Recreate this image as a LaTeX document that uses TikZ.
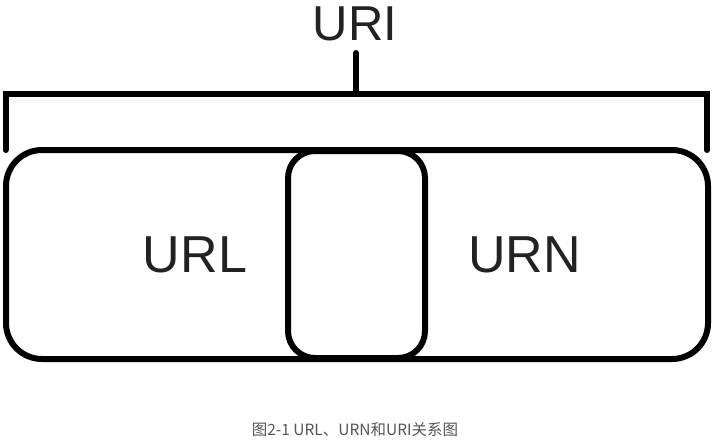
\documentclass[tikz,border=0pt]{standalone}
\usepackage{fontspec}
\setmainfont{Liberation Sans}
\newfontfamily\cjk{Noto Sans CJK SC}
\definecolor{inkgray}{HTML}{222222}
\definecolor{capgray}{HTML}{555555}

\begin{document}
\begin{tikzpicture}[
  x=1pt, y=-1pt,
  outerbox/.style={
    draw,
    line width=6pt,
    rounded corners=36pt,
    inner sep=0pt,
    minimum width=702pt,
    minimum height=209pt
  },
  midbox/.style={
    draw,
    line width=6pt,
    rounded corners=27pt,
    inner sep=0pt,
    minimum width=137pt,
    minimum height=207pt
  },
  brace/.style={line width=6pt, line cap=round},
  biglabel/.style={
    anchor=base,
    inner sep=0pt,
    text=inkgray,
    font=\fontsize{52pt}{52pt}\selectfont
  },
  caption/.style={
    anchor=base,
    inner sep=0pt,
    text=capgray,
    font=\cjk\fontsize{15.5pt}{15.5pt}\selectfont
  }
]
\useasboundingbox (0,0) rectangle (714,439);

% --------------------
% Boxes
% --------------------
\node[outerbox] (whole) at (357,254.5) {};
\node[midbox] (overlap) at (356.5,254.5) {};

% --------------------
% Bracket
% --------------------
\draw[brace] (5.5,150) -- (5.5,94) -- (707,94) -- (707,150);
\draw[brace] (356,53) -- (356,94);

% --------------------
% Labels
% --------------------
\node[biglabel, font=\fontsize{49pt}{49pt}\selectfont] (uri) at (355,40) {URI};
\node[biglabel] (url) at (195,272) {URL};
\node[biglabel] (urn) at (524.5,272) {URN};

\node[caption] (cap) at (355,435) {图2-1 URL、URN和URI关系图};

\end{tikzpicture}
\end{document}
